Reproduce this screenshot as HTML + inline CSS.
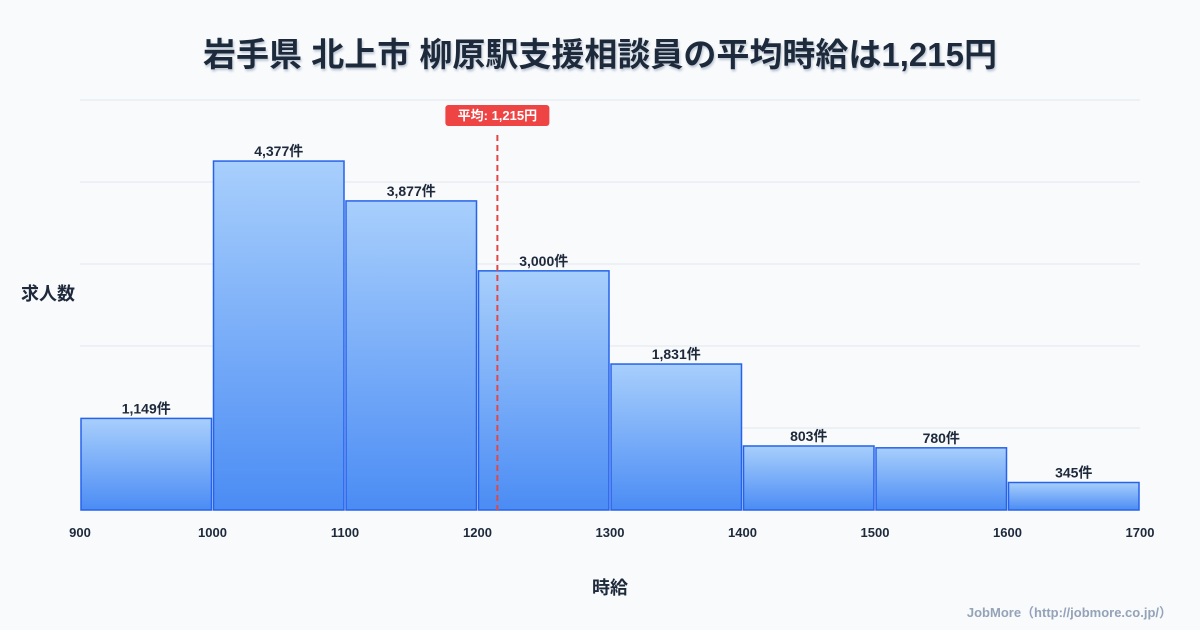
<!DOCTYPE html>
<html><head><meta charset="utf-8"><style>
body{margin:0;background:#f8fafc;}
svg{display:block;font-family:"Liberation Sans","Noto Sans CJK JP",sans-serif;}
</style></head><body>
<svg id="c" width="1200" height="630">
<defs>
<linearGradient id="g" x1="0" y1="0" x2="0" y2="1"><stop offset="0" stop-color="#a8cffc"/><stop offset="1" stop-color="#4b8cf4"/></linearGradient>
<filter id="sh"><feDropShadow dx="1" dy="2" stdDeviation="1" flood-color="#94a3b8" flood-opacity="0.6"/></filter>
</defs>
<rect width="1200" height="630" fill="#f8fafc"/>
<text x="600" y="66" text-anchor="middle" font-size="33" font-weight="bold" fill="#1e293b" filter="url(#sh)">岩手県 北上市 柳原駅支援相談員の平均時給は1,215円</text>
<g id="grid"></g><g id="bars"></g><g id="xt"></g>
<text x="48" y="300" text-anchor="middle" font-size="18" font-weight="bold" fill="#1e293b">求人数</text>
<text x="610" y="594" text-anchor="middle" font-size="18" font-weight="bold" fill="#1e293b">時給</text>
<text x="1172" y="617" text-anchor="end" font-size="13" font-weight="bold" fill="#94a3b8">JobMore（http://jobmore.co.jp/）</text>
</svg>
<script>
const binStarts=[900,1000,1100,1200,1300,1400,1500,1600];
const counts=[1149,4377,3877,3000,1831,803,780,345];
const xTicks=[900,1000,1100,1200,1300,1400,1500,1600,1700];
const meanValue=1215;
const ns='http://www.w3.org/2000/svg';
const X0=80,X1=1140,XMIN=900,XMAX=1700,Y0=510,Y1=100,YMAX=5143;
const x=v=>X0+(v-XMIN)/(XMAX-XMIN)*(X1-X0);
const y=v=>Y0-v/YMAX*(Y0-Y1);
function mk(t,a,p){const e=document.createElementNS(ns,t);for(const k in a)e.setAttribute(k,a[k]);p.appendChild(e);return e;}
const grid=document.getElementById('grid'),bars=document.getElementById('bars'),xt=document.getElementById('xt');
for(let i=0;i<=5;i++){const gy=Y0-i*(Y0-Y1)/5;const l=mk('line',{x1:X0,x2:X1,y1:gy,y2:gy,stroke:'#e2e8f0','stroke-width':1},grid);

}
binStarts.forEach((b,i)=>{const xa=x(b)+1,xb=x(b+100)-1,yt=y(counts[i]);
const r=mk('rect',{x:xa,y:yt,width:xb-xa,height:Y0-yt,fill:'url(#g)',stroke:'#2563eb','stroke-width':1.5},bars);


const t=mk('text',{x:(xa+xb)/2,y:yt-5,'text-anchor':'middle','font-size':14,'font-weight':'bold',fill:'#1e293b'},bars);
t.textContent=counts[i].toLocaleString('en-US')+'件';

});
xTicks.forEach(v=>{const t=mk('text',{x:x(v),y:537,'text-anchor':'middle','font-size':13,'font-weight':'bold',fill:'#1e293b'},xt);
t.textContent=v;

});
const mx=x(meanValue);
const ml=mk('line',{x1:mx,x2:mx,y1:135,y2:Y0,stroke:'#e04848','stroke-width':2,'stroke-dasharray':'6,4'},bars);


const mb=mk('rect',{x:mx-52,y:105,width:104,height:21,rx:3,fill:'#ef4444'},bars);


const mt=mk('text',{x:mx,y:120,'text-anchor':'middle','font-size':13,'font-weight':'bold',fill:'#fff'},bars);
mt.textContent='平均: '+meanValue.toLocaleString('en-US')+'円';


</script>
</body></html>
